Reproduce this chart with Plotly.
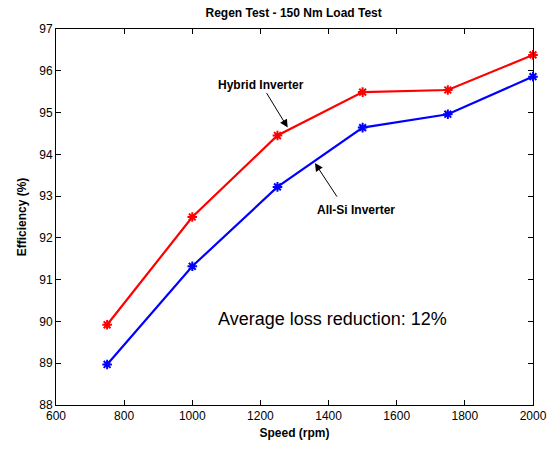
import plotly.graph_objects as go

speed_rpm = [750, 1000, 1250, 1500, 1750, 2000]
hybrid_eff = [89.92, 92.50, 94.45, 95.49, 95.54, 96.38]
allsi_eff = [88.97, 91.32, 93.22, 94.64, 94.96, 95.86]

x_ticks = [600, 800, 1000, 1200, 1400, 1600, 1800, 2000]
y_ticks = [88, 89, 90, 91, 92, 93, 94, 95, 96, 97]

FONT = "Arial, Liberation Sans, Helvetica, sans-serif"

fig = go.Figure()
fig.add_trace(go.Scatter(
    x=speed_rpm, y=hybrid_eff, mode="lines+markers", name="Hybrid Inverter",
    line=dict(color="#ff0000", width=2.2), cliponaxis=False,
    marker=dict(symbol="asterisk-open", size=8, color="#ff0000",
                line=dict(color="#ff0000", width=2)),
))
fig.add_trace(go.Scatter(
    x=speed_rpm, y=allsi_eff, mode="lines+markers", name="All-Si Inverter",
    line=dict(color="#0000ff", width=2.2), cliponaxis=False,
    marker=dict(symbol="asterisk-open", size=8, color="#0000ff",
                line=dict(color="#0000ff", width=2)),
))

axis_common = dict(
    showgrid=False, zeroline=False, showline=True, linecolor="black",
    linewidth=1, mirror="ticks", ticks="inside", ticklen=5,
    tickcolor="black", tickfont=dict(family=FONT, size=12, color="black"),
    automargin=False,
)

fig.update_xaxes(range=[600, 2000], tickvals=x_ticks, **axis_common,
                 title=dict(text="<b>Speed (rpm)</b>", standoff=6,
                            font=dict(family=FONT, size=12, color="black")))
fig.update_yaxes(range=[88, 97], tickvals=y_ticks, **axis_common,
                 title=dict(text="<b>Efficiency (%)</b>", standoff=10,
                            font=dict(family=FONT, size=12, color="black")))

# label text
fig.add_annotation(x=1203, y=95.66, text="<b>Hybrid Inverter</b>", showarrow=False,
                   font=dict(family=FONT, size=12, color="black"))
fig.add_annotation(x=1481, y=92.66, text="<b>All-Si Inverter</b>", showarrow=False,
                   font=dict(family=FONT, size=12, color="black"))
fig.add_annotation(x=1411, y=90.05, text="Average loss reduction: 12%", showarrow=False,
                   font=dict(family=FONT, size=18, color="black"))

# arrows pointing at the curves
fig.add_annotation(x=1280, y=94.64, ax=-22, ay=-36, text="", showarrow=True,
                   arrowhead=2, arrowsize=1.6, arrowwidth=1, arrowcolor="black")
fig.add_annotation(x=1360, y=93.79, ax=23, ay=35, text="", showarrow=True,
                   arrowhead=2, arrowsize=1.6, arrowwidth=1, arrowcolor="black")

fig.update_layout(
    width=554, height=449,
    margin=dict(l=56, r=21, t=29, b=44, autoexpand=False),
    paper_bgcolor="white", plot_bgcolor="white",
    showlegend=False,
    title=dict(text="<b>Regen Test - 150 Nm Load Test</b>", x=0.53, xanchor="center",
               y=0.972, yanchor="middle",
               font=dict(family=FONT, size=12, color="black")),
)

fig.write_html("out.html")
